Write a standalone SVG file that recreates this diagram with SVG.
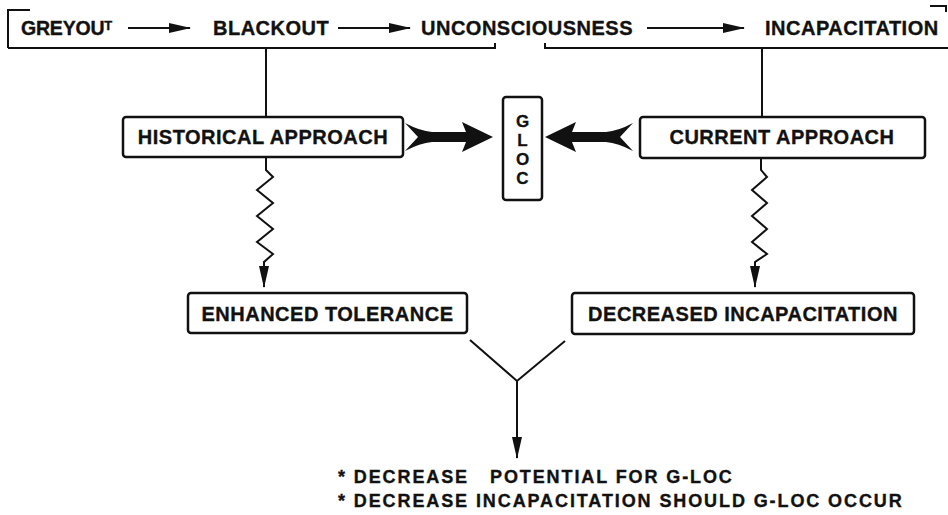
<svg xmlns="http://www.w3.org/2000/svg" width="948" height="515" viewBox="0 0 948 515">
<defs>
<style>
.t{font-family:"Liberation Sans",Arial,Helvetica,sans-serif;font-weight:bold;font-size:20px;fill:#111;stroke:#111;stroke-width:0.35px;letter-spacing:0.5px}
.b{font-family:"Liberation Sans",Arial,Helvetica,sans-serif;font-weight:bold;font-size:18px;fill:#111;stroke:#111;stroke-width:0.35px;letter-spacing:1.9px}
.g{font-family:"Liberation Sans",Arial,Helvetica,sans-serif;font-weight:bold;font-size:17px;fill:#111;stroke:#111;stroke-width:0.3px}
.box{fill:#fff;stroke:#111;stroke-width:2.5}
.ln{fill:none;stroke:#111;stroke-width:2;stroke-linejoin:miter}
.big{fill:#111;stroke:none}
</style>
<marker id="ah" viewBox="0 0 22 10" refX="21" refY="5" markerWidth="22" markerHeight="10" markerUnits="userSpaceOnUse" orient="auto">
<path d="M0,0 L22,5 L0,10 Z" fill="#111"/>
</marker>
<marker id="ah2" viewBox="0 0 10 22" refX="5" refY="21" markerWidth="10" markerHeight="22" markerUnits="userSpaceOnUse" orient="0">
<path d="M0,0 L5,22 L10,0 Z" fill="#111"/>
</marker>
</defs>

<g id="connectors">
<path class="ln" d="M8,48 L8,10 L30,10"/>
<path class="ln" d="M8,48 L495,48 L495,43"/>
<path class="ln" d="M545,43 L545,48 L948,48"/>
<path class="ln" d="M930,6 L946,6 L946,12"/>
<line class="ln" x1="128" y1="28" x2="190" y2="28" marker-end="url(#ah)"/>
<line class="ln" x1="338" y1="28" x2="410" y2="28" marker-end="url(#ah)"/>
<line class="ln" x1="647" y1="28" x2="744" y2="28" marker-end="url(#ah)"/>
<line class="ln" x1="266" y1="48" x2="266" y2="117"/>
<line class="ln" x1="762" y1="48" x2="762" y2="117"/>
<path class="ln" d="M266,157 L266,170 L273,177 L257,190 L273,203 L257,216 L273,229 L257,242 L273,254 L264,262 L264,287" marker-end="url(#ah2)"/>
<path class="ln" d="M761,158 L761,170 L767,177 L752,190 L767,203 L752,216 L767,229 L752,242 L767,254 L755,262 L755,287" marker-end="url(#ah2)"/>
<path class="ln" d="M470,340 L517,381 L565,341 M517,381 L517,458" marker-end="url(#ah2)"/>
<path class="big" d="M405,123 Q420,131 432,132 L466,132 L462,122 L493,137 L462,152 L466,142 L432,142 Q420,143 405,151 L418,137 Z"/>
<path class="big" d="M633,123 Q618,131 606,132 L572,132 L576,122 L545,137 L576,152 L572,142 L606,142 Q618,143 633,151 L620,137 Z"/>
</g>

<g id="greyout"><text class="t" x="21" y="35" style="font-size:19.5px;letter-spacing:-0.2px">GREYOU<tspan font-size="13" dy="-5">T</tspan></text></g>
<g id="blackout"><text class="t" x="213" y="35">BLACKOUT</text></g>
<g id="unconsciousness"><text class="t" x="421" y="35">UNCONSCIOUSNESS</text></g>
<g id="incapacitation"><text class="t" x="765" y="35">INCAPACITATION</text></g>

<g id="historical">
<rect class="box" x="123" y="117" width="280" height="40" rx="3"/>
<text class="t" x="263" y="144" text-anchor="middle">HISTORICAL APPROACH</text>
</g>
<g id="current">
<rect class="box" x="640" y="117" width="285" height="41" rx="3"/>
<text class="t" x="782" y="144" text-anchor="middle">CURRENT APPROACH</text>
</g>
<g id="gloc">
<rect class="box" x="503" y="97" width="39" height="103" rx="3"/>
<text class="g" x="522.5" y="127" text-anchor="middle">G</text>
<text class="g" x="522.5" y="146" text-anchor="middle">L</text>
<text class="g" x="522.5" y="165" text-anchor="middle">O</text>
<text class="g" x="522.5" y="184" text-anchor="middle">C</text>
</g>
<g id="enhanced">
<rect class="box" x="188" y="293" width="279" height="40" rx="3"/>
<text class="t" x="327.5" y="321" text-anchor="middle">ENHANCED TOLERANCE</text>
</g>
<g id="decreased">
<rect class="box" x="572" y="293" width="342" height="41" rx="3"/>
<text class="t" x="743" y="321" text-anchor="middle">DECREASED INCAPACITATION</text>
</g>
<g id="outcome">
<text class="b" x="338" y="483">* DECREASE<tspan x="490">POTENTIAL FOR G-LOC</tspan></text>
<text class="b" x="338" y="507">* DECREASE INCAPACITATION SHOULD G-LOC OCCUR</text>
</g>
</svg>
